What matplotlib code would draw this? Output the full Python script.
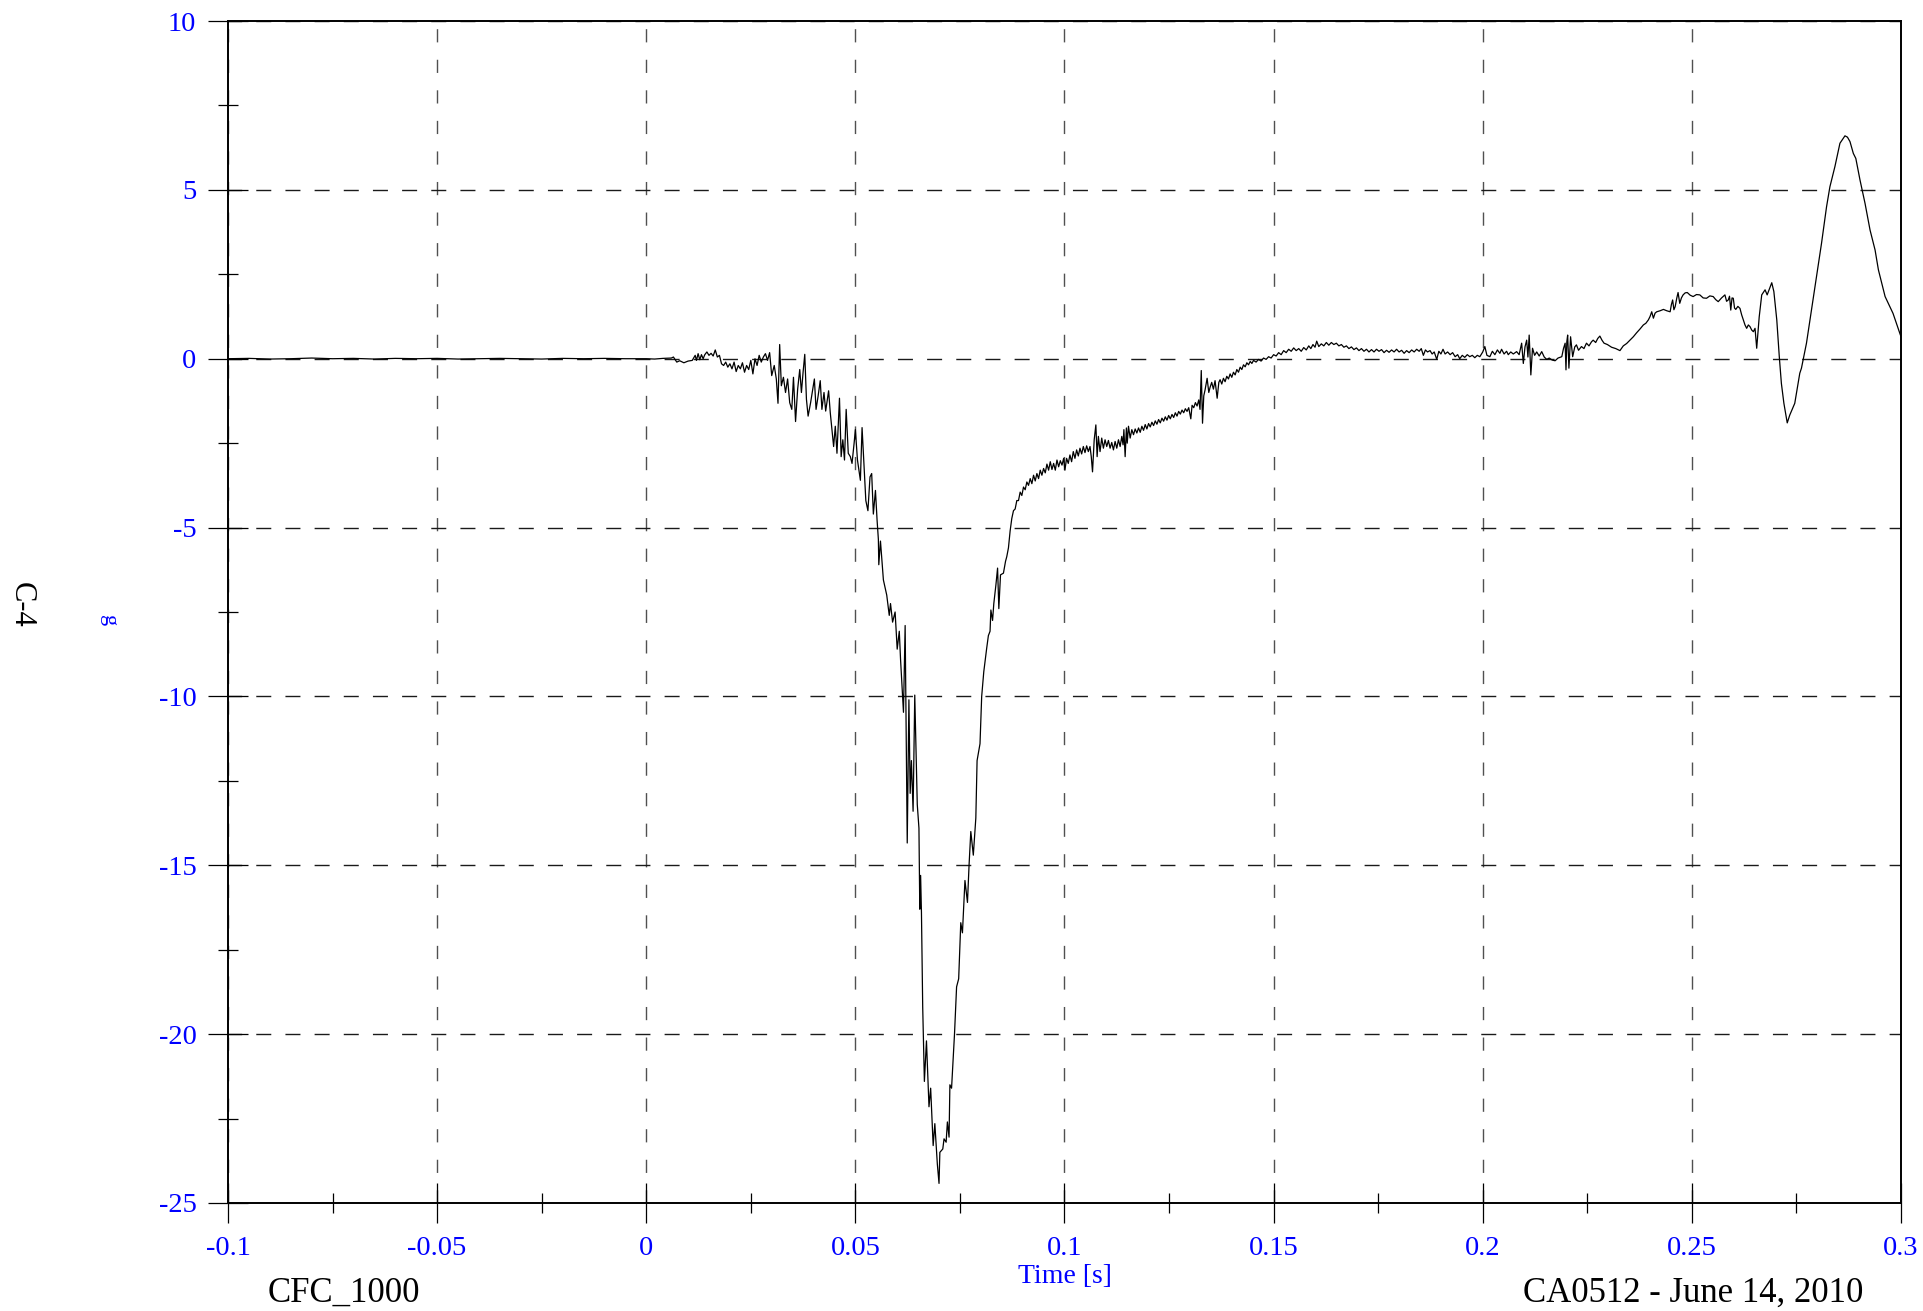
import matplotlib
matplotlib.use("Agg")
import matplotlib.pyplot as plt
from matplotlib.ticker import MultipleLocator
import numpy as np

# ---------------------------------------------------------------
# Acceleration trace, channel C-4 (time in ms, acceleration in g)
# ---------------------------------------------------------------
t_pre = [-100, -95, -90, -85, -80, -75, -70, -65, -60, -55, -50, -45,
         -40, -35, -30, -25, -20, -15, -10, -5, 0, 2, 4]
g_pre = [0.0, 0.01, -0.01, 0.0, 0.02, 0.0, 0.01, -0.01, 0.01, 0.0, 0.01,
         -0.01, 0.0, 0.01, 0.0, -0.01, 0.01, 0.0, 0.01, 0.0, 0.0, -0.01, 0.01]

t_onset = [6.0, 6.5, 7.3, 8.0, 9.0, 10.0, 11.0, 11.7, 12.0, 12.4, 12.8, 13.2,
           13.6, 14.0, 14.5, 15.0, 15.5, 16.0, 16.5, 17.0, 17.5, 18.0, 18.5,
           19.0, 19.5, 20.0, 20.5, 21.0, 21.5, 22.0, 22.5, 23.0, 23.5, 24.0,
           24.5, 25.0, 25.5, 26.0, 26.5, 27.0, 27.5, 28.0, 28.5, 29.0, 29.5,
           30.0, 30.6, 31.1, 31.5, 31.9, 32.3, 32.8, 33.3, 33.8, 34.3, 34.8,
           35.2, 35.7, 36.2, 36.7, 37.1, 37.5, 37.9, 38.3, 38.7, 39.3, 39.8,
           40.2, 40.6, 41.1, 41.6, 42.0, 42.5, 42.9, 43.6, 44.0, 44.4, 44.8,
           45.2, 45.6, 46.2, 46.6, 47.0, 47.4, 47.8, 48.3, 48.8, 49.2, 49.7,
           50.0, 50.5, 51.2, 51.6, 52.0, 52.5, 53.0, 53.5, 53.9, 54.3, 54.8,
           55.2, 55.5]
g_onset = [0.02, 0.05, -0.1, -0.06, -0.12, -0.07, -0.05, 0.1, -0.05, 0.15,
           -0.03, 0.12, 0.0, 0.12, 0.2, 0.1, 0.16, 0.08, 0.26, 0.05, 0.1,
           -0.15, -0.2, -0.1, -0.25, -0.15, -0.3, -0.1, -0.38, -0.2, -0.3,
           -0.12, -0.4, -0.2, -0.32, -0.05, -0.45, 0.0, -0.2, 0.1, -0.1, 0.05,
           0.15, -0.05, 0.18, -0.5, -0.2, -0.6, -1.32, 0.42, -0.8, -0.55,
           -1.0, -0.6, -1.3, -1.5, -0.55, -1.86, -0.9, -0.32, -1.0, -0.4,
           0.13, -1.2, -1.7, -1.3, -0.9, -0.6, -1.5, -1.1, -0.65, -1.5, -1.0,
           -1.55, -0.95, -1.6, -2.1, -2.6, -2.0, -2.8, -1.17, -2.9, -2.4,
           -3.0, -1.5, -2.8, -2.9, -3.1, -2.5, -2.1, -3.0, -3.6, -2.04, -3.0,
           -4.2, -4.5, -3.5, -3.4, -4.6, -3.9, -4.8, -5.35]

t_pulse = [55.6, 56.0, 56.7, 57.5, 58.1, 58.4, 58.9, 59.5, 60.0, 60.5, 60.8,
           61.5, 61.9, 62.4, 62.8, 63.1, 63.4, 63.8, 64.2, 64.8, 65.2, 65.4,
           65.6, 65.8, 66.1, 66.5, 67.0, 67.6, 68.0, 68.6, 69.0, 69.6, 70.0,
           70.2, 70.9, 71.2, 71.7, 72.0, 72.4, 72.6, 73.0, 73.7, 74.2, 74.7,
           75.2, 75.6, 76.2, 76.8, 77.2, 77.6, 78.2, 78.8, 79.1, 79.8, 80.2,
           80.7, 81.4, 81.8, 82.2, 82.4, 82.8, 83.1, 83.6, 84.0, 84.3, 84.7,
           85.4, 85.9, 86.2, 86.6, 87.0]
g_pulse = [-6.1, -5.4, -6.55, -7.0, -7.6, -7.25, -7.8, -7.5, -8.6, -8.07,
           -8.9, -10.47, -7.9, -14.34, -10.1, -12.87, -11.9, -13.4, -9.96,
           -13.2, -13.9, -16.3, -15.3, -16.4, -19.2, -21.4, -20.2, -22.15,
           -21.6, -23.3, -22.65, -23.85, -24.42, -23.5, -23.4, -23.1, -23.2,
           -22.6, -23.05, -21.5, -21.6, -20.0, -18.6, -18.36, -16.7, -17.0,
           -15.45, -16.1, -14.95, -14.0, -14.7, -13.6, -11.9, -11.4, -10.0,
           -9.27, -8.57, -8.2, -8.07, -7.44, -7.75, -7.25, -6.7, -6.2, -7.4,
           -6.4, -6.35, -6.0, -5.86, -5.6, -5.1]

t_recovery = [87.4, 87.8, 88.2, 88.6, 89.0, 89.4, 89.8, 90.2, 90.6, 91.0,
              91.4, 91.8, 92.2, 92.6, 93.0, 93.4, 93.8, 94.2, 94.6, 95.0,
              95.4, 95.8, 96.2, 96.6, 97.0, 97.4, 97.8, 98.2, 98.6, 99.0,
              99.4, 99.8, 100.1, 100.5, 100.9, 101.3, 101.7, 102.1, 102.5,
              102.9, 103.3, 103.7, 104.1, 104.5, 104.9, 105.3, 105.7, 106.1,
              106.4, 106.7, 107.1, 107.5, 107.8, 108.1, 108.5, 108.9, 109.3,
              109.7, 110.1, 110.5, 110.9, 111.3, 111.7, 112.1, 112.5, 112.9,
              113.3, 113.7, 114.0, 114.2, 114.5, 114.8, 115.0, 115.3, 115.7,
              116.1, 116.5, 116.9, 117.3, 117.7, 118.1, 118.5, 118.9, 119.3,
              119.7, 120.1, 120.5, 120.9, 121.3, 121.7, 122.1, 122.5, 122.9,
              123.3, 123.7, 124.1, 124.5, 124.9, 125.3, 125.7, 126.1, 126.5,
              126.9, 127.3, 127.7, 128.1, 128.5, 128.9, 129.3, 129.7, 130.2,
              130.5, 130.9, 131.3, 131.7, 132.1, 132.4, 132.7, 133.0, 133.3,
              133.6, 134.1, 134.5, 134.8, 135.2, 135.6, 136.0, 136.5, 136.9,
              137.2, 137.6, 138.0, 138.4, 138.8, 139.2, 139.6, 140.0, 140.4,
              140.8, 141.2, 141.6, 142.0, 142.4, 142.8, 143.2, 143.6, 144.0,
              144.4, 144.8, 145.2, 145.8, 146.4, 147.0, 147.6, 148.2, 148.8,
              149.4, 150.0, 150.6, 151.2, 151.8, 152.4, 153.0, 153.6, 154.2,
              154.8, 155.4, 156.0, 156.6, 157.2, 157.8, 158.4, 158.9, 159.4,
              159.9, 160.3, 160.8, 161.4, 162.0, 162.6, 163.2, 163.8, 164.4,
              165.0, 165.6, 166.2, 166.8, 167.4, 168.0, 168.6, 169.2, 169.8,
              170.4, 171.0, 171.6, 172.2, 172.8, 173.4, 174.0, 174.6, 175.2,
              175.8, 176.4, 177.0, 177.6, 178.2, 178.8, 179.4, 180.0, 180.6,
              181.2, 181.8, 182.4, 183.0, 183.6, 184.2, 184.8, 185.3, 185.8,
              186.3, 186.8, 187.4, 187.9, 188.4, 189.0, 189.5, 190.0, 190.5,
              191.0, 191.6, 192.2, 192.8, 193.4, 194.0, 194.5, 195.1, 195.7,
              196.3, 196.9, 197.5, 198.1, 198.7, 199.3]
g_recovery = [-4.73, -4.5, -4.45, -4.2, -4.2, -3.95, -4.05, -3.8, -3.88,
              -3.65, -3.75, -3.55, -3.7, -3.45, -3.62, -3.4, -3.55, -3.3,
              -3.45, -3.25, -3.38, -3.12, -3.3, -3.05, -3.28, -3.1, -3.3, -3.0,
              -3.2, -3.02, -3.15, -2.95, -3.3, -2.95, -3.1, -2.85, -3.05,
              -2.75, -2.95, -2.7, -2.88, -2.65, -2.82, -2.6, -2.78, -2.58,
              -2.75, -2.6, -2.9, -3.35, -2.4, -1.96, -2.9, -2.3, -2.75, -2.35,
              -2.65, -2.4, -2.6, -2.42, -2.65, -2.48, -2.7, -2.45, -2.65, -2.4,
              -2.6, -2.3, -2.55, -2.1, -2.9, -2.05, -2.5, -2.0, -2.35, -2.1,
              -2.25, -2.08, -2.2, -2.05, -2.18, -2.0, -2.12, -1.95, -2.08,
              -1.92, -2.02, -1.88, -1.98, -1.84, -1.94, -1.8, -1.9, -1.76,
              -1.85, -1.72, -1.82, -1.68, -1.78, -1.65, -1.74, -1.6, -1.7,
              -1.56, -1.64, -1.52, -1.6, -1.48, -1.56, -1.45, -1.78, -1.38,
              -1.45, -1.3, -1.4, -1.22, -1.5, -0.35, -1.91, -1.1, -0.93, -0.58,
              -1.0, -0.85, -0.7, -0.9, -0.65, -1.17, -0.7, -0.62, -0.75, -0.58,
              -0.68, -0.52, -0.6, -0.45, -0.55, -0.4, -0.48, -0.32, -0.4,
              -0.25, -0.32, -0.18, -0.24, -0.12, -0.18, -0.08, -0.14, -0.05,
              -0.1, -0.02, -0.07, 0.02, -0.02, 0.06, 0.02, 0.12, 0.08, 0.18,
              0.12, 0.24, 0.18, 0.28, 0.22, 0.32, 0.24, 0.3, 0.22, 0.33, 0.26,
              0.38, 0.3, 0.42, 0.34, 0.52, 0.36, 0.44, 0.38, 0.48, 0.4, 0.48,
              0.42, 0.46, 0.38, 0.42, 0.34, 0.38, 0.3, 0.35, 0.27, 0.32, 0.24,
              0.3, 0.22, 0.28, 0.2, 0.27, 0.2, 0.28, 0.22, 0.27, 0.18, 0.25,
              0.19, 0.26, 0.2, 0.28, 0.2, 0.25, 0.16, 0.24, 0.18, 0.26, 0.2,
              0.28, 0.22, 0.3, 0.1, 0.26, 0.2, 0.24, 0.14, 0.2, -0.02, 0.22,
              0.14, 0.28, 0.14, 0.2, 0.12, 0.18, 0.06, 0.12, 0.0, 0.1, 0.04,
              0.12, 0.06, 0.1, 0.03, 0.1, 0.06]

t_rebound = [200.0, 200.5, 201.0, 201.7, 202.3, 202.9, 203.5, 204.1, 204.5,
             205.1, 205.7, 206.1, 206.7, 207.3, 208.1, 208.7, 209.3, 209.7,
             210.1, 210.5, 210.8, 211.1, 211.5, 211.9, 212.4, 212.9, 213.5,
             214.1, 214.7, 215.3, 215.9, 216.6, 217.3, 218.0, 218.9, 219.3,
             219.7, 219.9, 220.1, 220.3, 220.6, 221.0, 221.5, 222.0, 222.4,
             222.9, 223.6, 224.2, 224.8, 225.4, 226.0, 226.4, 227.0, 227.5,
             228.0, 228.5, 229.0, 229.8, 230.8, 231.8, 232.8, 233.6, 234.4,
             235.2, 236.0, 236.8, 237.6, 238.4, 239.0, 239.6, 240.0, 240.4,
             240.8, 241.2, 241.6, 242.4, 243.2, 244.0, 244.8, 245.1, 245.4,
             245.7, 246.0, 246.4, 246.7, 247.1, 247.5, 247.9, 248.4, 248.9,
             249.6, 250.3, 251.1, 251.9, 252.7, 253.5, 254.3, 255.1, 255.7,
             256.3, 257.1, 257.9, 258.3, 258.7, 259.0, 259.3, 259.6, 259.9,
             260.2, 260.5, 261.0, 261.5, 261.9, 262.3, 262.7, 263.1, 263.5,
             263.9, 264.3, 264.7, 265.1, 265.5, 266.1, 266.7, 267.5, 268.0,
             269.1, 269.6, 270.3, 270.9, 271.4, 272.0, 272.8, 273.4, 274.6,
             275.8, 276.2, 277.4, 278.6, 279.8, 281.0, 282.2, 283.0, 284.2,
             285.4, 286.6, 287.2, 287.8, 288.6, 289.2, 290.2, 291.4, 292.6,
             293.8, 294.6, 296.2, 298.1, 300.0]
g_rebound = [0.2, 0.36, 0.1, 0.06, 0.22, 0.12, 0.26, 0.16, 0.28, 0.14, 0.22,
             0.12, 0.2, 0.14, 0.21, 0.12, 0.46, -0.14, 0.35, 0.55, 0.05, 0.7,
             -0.48, 0.31, 0.1, 0.2, 0.08, 0.21, 0.05, -0.02, 0.02, -0.04,
             -0.06, 0.02, 0.06, 0.3, 0.46, -0.33, 0.5, 0.7, -0.28, 0.65, 0.06,
             0.35, 0.41, 0.25, 0.36, 0.3, 0.46, 0.38, 0.5, 0.55, 0.48, 0.6,
             0.67, 0.55, 0.46, 0.42, 0.34, 0.3, 0.24, 0.38, 0.45, 0.55, 0.65,
             0.77, 0.88, 1.0, 1.05, 1.15, 1.25, 1.39, 1.2, 1.35, 1.39, 1.42,
             1.46, 1.42, 1.39, 1.6, 1.74, 1.45, 1.54, 1.8, 1.96, 1.64, 1.8,
             1.89, 1.95, 1.96, 1.88, 1.84, 1.9, 1.89, 1.8, 1.79, 1.86, 1.84,
             1.75, 1.69, 1.8, 1.89, 1.7, 1.74, 1.85, 1.44, 1.8, 1.79, 1.5,
             1.46, 1.55, 1.49, 1.3, 1.15, 1.0, 0.9, 1.0, 0.95, 0.85, 0.8, 0.9,
             0.31, 1.24, 1.89, 2.04, 1.89, 2.25, 1.99, 1.15, 0.06, -0.73,
             -1.32, -1.9, -1.67, -1.32, -0.43, -0.28, 0.46, 1.44, 2.43, 3.42,
             4.5, 5.09, 5.69, 6.38, 6.6, 6.56, 6.43, 6.08, 5.93, 5.29, 4.6,
             3.81, 3.22, 2.63, 1.84, 1.34, 0.65]

# Axis ticks
x_ticks = [-0.1, -0.05, 0, 0.05, 0.1, 0.15, 0.2, 0.25, 0.3]
x_tick_labels = ["-0.1", "-0.05", "0", "0.05", "0.1", "0.15", "0.2", "0.25", "0.3"]
y_ticks = [-25, -20, -15, -10, -5, 0, 5, 10]
y_tick_labels = ["-25", "-20", "-15", "-10", "-5", "0", "5", "10"]

t_s = np.concatenate([t_pre, t_onset, t_pulse, t_recovery, t_rebound]) / 1000.0
g_all = np.concatenate([g_pre, g_onset, g_pulse, g_recovery, g_rebound])

plt.rcParams["font.family"] = ["Liberation Serif", "DejaVu Serif"]

fig = plt.figure(figsize=(19.23, 13.11), dpi=100)
ax = fig.add_axes([0.11856, 0.08238, 0.8700, 0.9016])

ax.plot(t_s, g_all, color="black", lw=0.9, zorder=3)

ax.set_xlim(-0.1, 0.3)
ax.set_ylim(-25, 10)
ax.set_xticks(x_ticks)
ax.set_xticklabels(x_tick_labels)
ax.set_yticks(y_ticks)
ax.set_yticklabels(y_tick_labels)
ax.xaxis.set_minor_locator(MultipleLocator(0.025))
ax.yaxis.set_minor_locator(MultipleLocator(2.5))

ax.tick_params(which="major", direction="inout", length=29.5, width=0.9,
               color="black", labelcolor="blue", labelsize=20.5, pad=8)
ax.tick_params(which="minor", direction="inout", length=15, width=0.9,
               color="black")
ax.tick_params(axis="x", which="major", pad=9)

# Dashed grid on the major ticks
ax.yaxis.grid(True, which="major", color="#1a1a1a", lw=1.0,
              ls=(1, (10.8, 10.2)), zorder=1)
ax.xaxis.grid(True, which="major", color="#505050", lw=1.0,
              ls=(0, (9.5, 12.5)), zorder=1)

for sp in ax.spines.values():
    sp.set_linewidth(1.4)
    sp.set_color("black")

fig.text(0.1394, 0.0069, "CFC_1000", ha="left", va="baseline", fontsize=25)
fig.text(0.9688, 0.0069, "CA0512 - June 14, 2010", ha="right", va="baseline",
         fontsize=25)
fig.text(0.5538, 0.0216, "Time [s]", ha="center", va="baseline", color="blue",
         fontsize=20)
fig.text(0.011, 0.5385, "C-4", rotation=270, ha="center", va="center",
         fontsize=22)
fig.text(0.0562, 0.5267, "g", rotation=270, ha="center", va="center",
         color="blue", fontsize=16)

fig.savefig("out.png", dpi=100, facecolor="white")
